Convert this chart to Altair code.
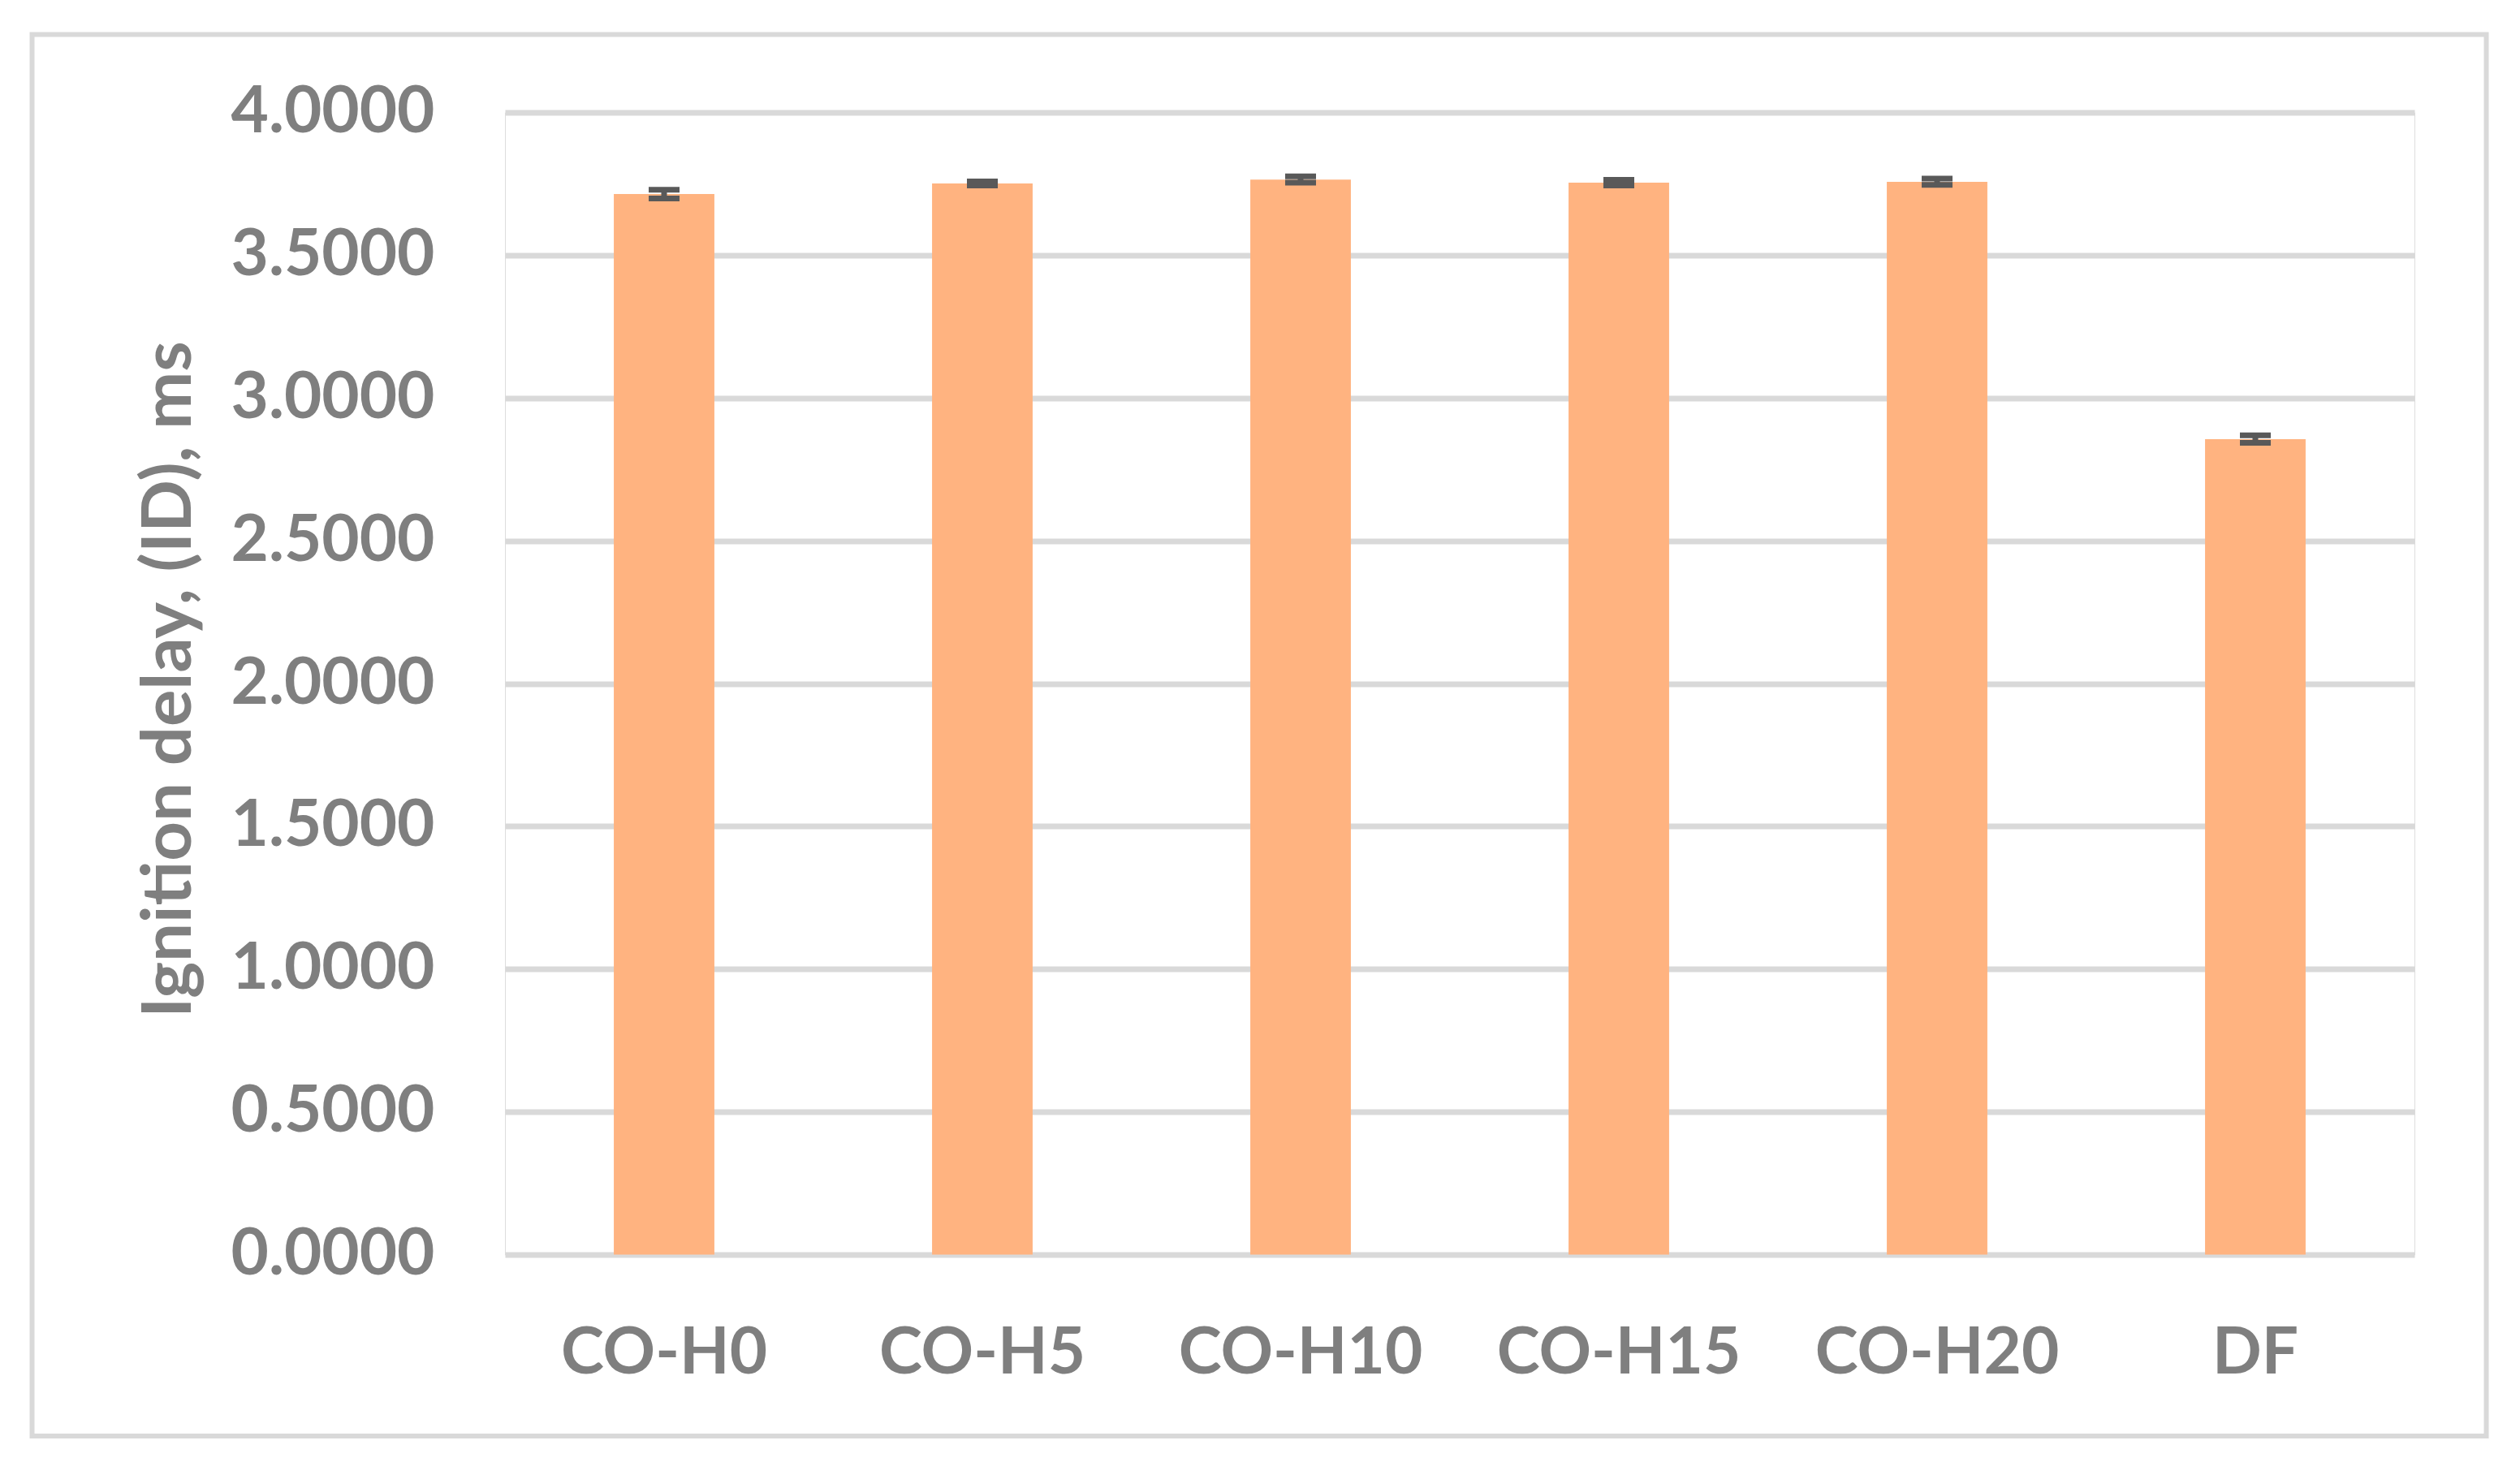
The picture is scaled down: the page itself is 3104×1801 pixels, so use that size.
import altair as alt
import pandas as pd

categories = ["CO-H0", "CO-H5", "CO-H10", "CO-H15", "CO-H20", "DF"]
ignition_delay = [3.714, 3.751, 3.765, 3.754, 3.757, 2.856]
error = [0.015, 0.007, 0.011, 0.010, 0.011, 0.013]
y_ticks = [0.0, 0.5, 1.0, 1.5, 2.0, 2.5, 3.0, 3.5, 4.0]

df = pd.DataFrame({
    "cat": categories,
    "val": ignition_delay,
    "err": error,
})
df["lo"] = df["val"] - df["err"]
df["hi"] = df["val"] + df["err"]

FONT = "Lato"
GRAY = "#7f7f7f"
ERR = "#595959"
W, H = 2352, 1407

x_enc = alt.X(
    "cat:N",
    sort=categories,
    scale=alt.Scale(paddingInner=0.684, paddingOuter=0.342),
    axis=alt.Axis(
        title=None, labelAngle=0, ticks=False, tickSize=0, domain=False,
        labelFont=FONT, labelFontSize=80, labelFontWeight="bold", labelColor=GRAY,
        labelBaseline="alphabetic", labelPadding=146, grid=False, labelLimit=0,
    ),
)

y_scale = alt.Scale(domain=[0, 4], nice=False, zero=True)

bars = alt.Chart(df).mark_bar(color="#FFB380").encode(
    x=x_enc,
    y=alt.Y(
        "val:Q",
        scale=y_scale,
        axis=alt.Axis(
            values=y_ticks, format=".4f", title="Ignition delay, (ID), ms",
            domain=False, ticks=False, tickSize=0, labelLimit=0,
            labelFont=FONT, labelFontSize=80, labelFontWeight="bold", labelColor=GRAY,
            labelPadding=87, labelBaseline="middle",
            grid=True, gridColor="#d9d9d9", gridWidth=7,
            titleFont=FONT, titleFontSize=85, titleFontWeight="bold", titleColor=GRAY,
            titleAngle=-90, titleX=-414, titleY=698, titleAlign="center",
            titleBaseline="middle", titleLimit=0,
        ),
    ),
)

stems = alt.Chart(df).mark_rule(color=ERR, strokeWidth=7, opacity=1).encode(
    x=alt.X("cat:N", sort=categories),
    y=alt.Y("lo:Q", scale=y_scale),
    y2="hi:Q",
)

caps_lo = alt.Chart(df).mark_tick(color=ERR, thickness=7, size=38, opacity=1).encode(
    x=alt.X("cat:N", sort=categories),
    y=alt.Y("lo:Q", scale=y_scale),
)
caps_hi = alt.Chart(df).mark_tick(color=ERR, thickness=7, size=38, opacity=1).encode(
    x=alt.X("cat:N", sort=categories),
    y=alt.Y("hi:Q", scale=y_scale),
)

frame = alt.Chart(alt.Data(values=[{}])).mark_rect(
    fillOpacity=0, stroke="#d9d9d9", strokeWidth=6
).encode(
    x=alt.value(-582.5), x2=alt.value(2440.5),
    y=alt.value(-96), y2=alt.value(1630.5),
)

chart = alt.layer(frame, bars, stems, caps_lo, caps_hi).properties(
    width=W, height=H,
    autosize=alt.AutoSizeParams(type="none"),
    padding={"left": 614, "top": 130.5, "right": 102, "bottom": 233},
).configure_view(stroke=None).configure(background="white")

chart.save("out.html", embed_options={"renderer": "svg", "actions": False})
